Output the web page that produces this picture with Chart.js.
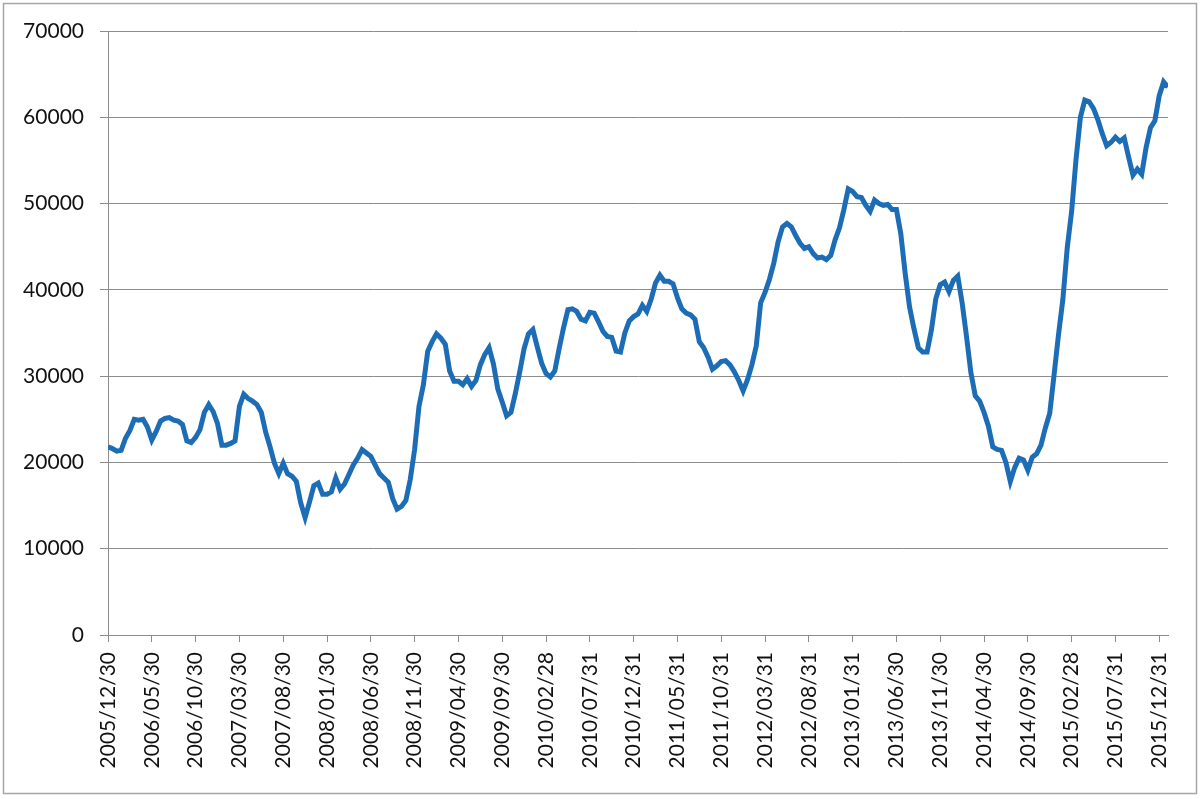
<!DOCTYPE html>
<html>
<head>
<meta charset="utf-8">
<title>Line chart 2005-2015</title>
<script src="https://cdn.jsdelivr.net/npm/chart.js@4.4.1/dist/chart.umd.min.js"></script>
<style>
  html, body { margin: 0; padding: 0; background: #fff; }
  canvas { display: block; }
</style>
</head>
<body>
<canvas id="chart" width="1200" height="799"></canvas>
<script>
// ── Data (half-month steps) ───────────────────────────────────────────────────
const tickLabels = [
  '2005/12/30', '2006/05/30', '2006/10/30', '2007/03/30', '2007/08/30',
  '2008/01/30', '2008/06/30', '2008/11/30', '2009/04/30', '2009/09/30',
  '2010/02/28', '2010/07/31', '2010/12/31', '2011/05/31', '2011/10/31',
  '2012/03/31', '2012/08/31', '2013/01/31', '2013/06/30', '2013/11/30',
  '2014/04/30', '2014/09/30', '2015/02/28', '2015/07/31', '2015/12/31'
];
const labelStep = 10; // points between two labelled ticks

const values = [
  21800, 21600, 21300, 21400, 22800, 23700, 25000, 24900, 25000, 24100,
  22600, 23600, 24800, 25100, 25200, 24900, 24800, 24400, 22500, 22300,
  22900, 23800, 25800, 26700, 25900, 24500, 22000, 22000, 22200, 22500,
  26500, 27900, 27400, 27100, 26700, 25800, 23500, 21800, 19900, 18700,
  19900, 18700, 18400, 17800, 15300, 13600, 15400, 17300, 17600, 16300,
  16300, 16600, 18200, 16900, 17500, 18600, 19700, 20500, 21500, 21100,
  20700, 19700, 18700, 18200, 17700, 15800, 14600, 14900, 15600, 18000,
  21500, 26500, 29000, 32900, 34000, 34900, 34400, 33700, 30600, 29400,
  29400, 29000, 29700, 28800, 29500, 31300, 32500, 33300, 31400, 28500,
  27000, 25400, 25800, 28000, 30500, 33200, 34900, 35400, 33400, 31500,
  30300, 29900, 30600, 33200, 35600, 37700, 37800, 37500, 36600, 36400,
  37400, 37300, 36300, 35200, 34600, 34500, 32900, 32800, 35000, 36400,
  36900, 37200, 38200, 37500, 38900, 40800, 41700, 41000, 41000, 40700,
  39100, 37800, 37300, 37100, 36600, 34000, 33300, 32200, 30800, 31200,
  31700, 31800, 31300, 30500, 29500, 28300, 29600, 31300, 33500, 38500,
  39700, 41200, 43100, 45600, 47300, 47700, 47300, 46300, 45400, 44800,
  45000, 44200, 43700, 43800, 43500, 44000, 45800, 47200, 49300, 51700,
  51400, 50800, 50700, 49800, 49100, 50400, 50000, 49800, 49900, 49300,
  49300, 46500, 41900, 38000, 35500, 33300, 32800, 32800, 35400, 39000,
  40600, 40900, 39800, 41100, 41600, 38500, 34600, 30400, 27700, 27100,
  25800, 24200, 21800, 21500, 21400, 20000, 17800, 19400, 20500, 20300,
  19100, 20600, 21000, 22000, 24000, 25700, 30200, 34800, 38900, 44900,
  49100, 55100, 60000, 62000, 61800, 61000, 59700, 58100, 56700, 57100,
  57700, 57200, 57600, 55400, 53300, 54000, 53400, 56500, 58800, 59600,
  62500, 64100, 63500
];

const yMin = 0;
const yMax = 70000;
const yStep = 10000;

// ── Styling ───────────────────────────────────────────────────────────────────
const FONT = { family: 'Lato, "Liberation Sans", sans-serif', size: 21 };
const GRID = '#8c8c8c';
const LINE = '#1c6db5';
const TEXT = '#111';

// white background + thin outer frame, like the spreadsheet chart
const framePlugin = {
  id: 'frame',
  beforeDraw(chart) {
    const { ctx, width, height } = chart;
    ctx.save();
    ctx.fillStyle = '#fff';
    ctx.fillRect(0, 0, width, height);
    ctx.strokeStyle = '#a6a6a6';
    ctx.lineWidth = 1.5;
    ctx.strokeRect(3.5, 3.5, width - 7, height - 9);
    ctx.restore();
  }
};

new Chart(document.getElementById('chart'), {
  type: 'line',
  data: {
    datasets: [{
      data: values.map((v, i) => ({ x: i, y: v })),
      borderColor: LINE,
      borderWidth: 5,
      pointRadius: 0,
      tension: 0,
      fill: false
    }]
  },
  options: {
    responsive: false,
    devicePixelRatio: 1,
    animation: false,
    layout: { padding: { top: 31, right: 32, bottom: 0, left: 0 } },
    plugins: { legend: { display: false }, tooltip: { enabled: false } },
    scales: {
      x: {
        type: 'linear',
        min: 0,
        max: values.length - 1,
        // one tick per date label, nothing in between
        afterBuildTicks: scale => {
          scale.ticks = tickLabels.map((_, k) => ({ value: k * labelStep }));
        },
        afterFit: scale => { scale.height = 164; },
        grid: { drawOnChartArea: false, color: GRID, tickLength: 7 },
        border: { color: GRID, width: 1 },
        ticks: {
          autoSkip: false,
          minRotation: 90,
          maxRotation: 90,
          padding: 10,
          color: TEXT,
          font: FONT,
          callback: v => tickLabels[Math.round(v / labelStep)] || ''
        }
      },
      y: {
        min: yMin,
        max: yMax,
        afterFit: scale => { scale.width = 108; },
        grid: { color: GRID, lineWidth: 1, tickLength: 8 },
        border: { color: GRID, width: 1 },
        ticks: {
          stepSize: yStep,
          padding: 16,
          color: TEXT,
          font: FONT,
          callback: v => String(v)
        }
      }
    }
  },
  plugins: [framePlugin]
});
</script>
</body>
</html>
